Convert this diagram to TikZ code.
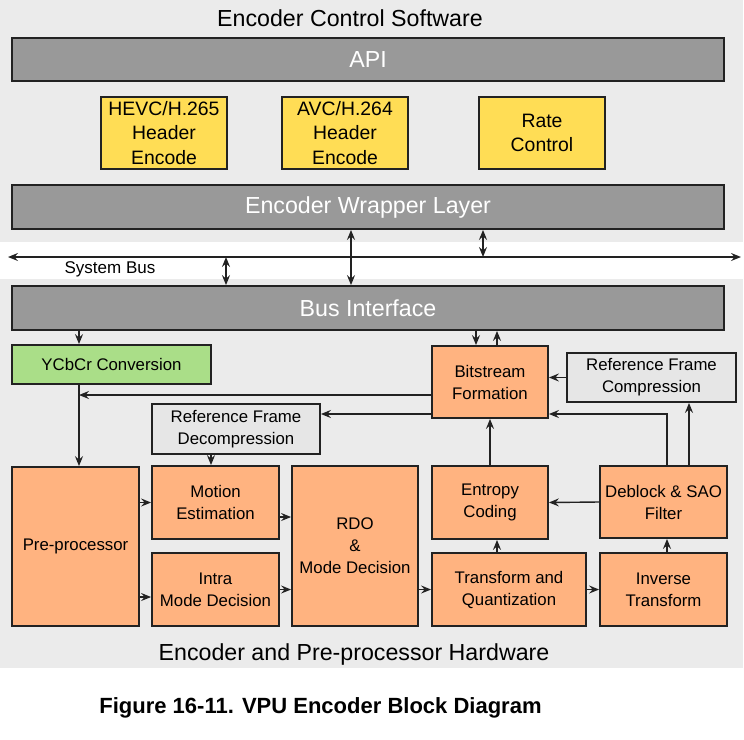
\documentclass[tikz,border=0pt]{standalone}
\usepackage{fontspec}
\setmainfont{Liberation Sans}
\usepackage{tikz}
\usetikzlibrary{arrows.meta,positioning}
\definecolor{panelgray}{RGB}{235,235,235}
\definecolor{bargray}{RGB}{153,153,153}
\definecolor{hdryellow}{RGB}{255,221,85}
\definecolor{yuvgreen}{RGB}{170,222,136}
\definecolor{hworange}{RGB}{255,179,128}
\definecolor{refgray}{RGB}{230,230,230}
\definecolor{edgeblack}{RGB}{34,34,34}

\begin{document}
\begin{tikzpicture}[x=1pt,y=-1pt,
  box/.style={draw=edgeblack,line width=1.8pt,align=center,inner sep=0pt},
  swbar/.style={box,fill=bargray,text=white,minimum width=712pt,minimum height=44pt,font=\fontsize{23.2}{28}\selectfont},
  hdrcell/.style={box,fill=hdryellow,minimum width=126pt,minimum height=72pt,font=\fontsize{19.4}{24.5}\selectfont},
  hwcell/.style={box,fill=hworange,font=\fontsize{16.8}{22}\selectfont},
  refcell/.style={box,fill=refgray,font=\fontsize{16.8}{22}\selectfont},
  lbl/.style={font=\fontsize{23.2}{28}\selectfont},
  link/.style={-{Stealth[length=10pt,width=8pt,inset=3.5pt]},line width=1.4pt,edgeblack},
  dlink/.style={{Stealth[length=10pt,width=8pt,inset=3.5pt]}-{Stealth[length=10pt,width=8pt,inset=3.5pt]},line width=1.4pt,edgeblack},
]
  \useasboundingbox (0,0) rectangle (744,739);
  % panels
  \fill[panelgray] (0,0) rectangle (743,242);
  \fill[panelgray] (0,279) rectangle (743,668);
  \node[lbl] (swtitle) at (350,18) {Encoder Control Software};
  \node[lbl] (hwtitle) at (354,654) {Encoder and Pre-processor Hardware};

  % software side
  \node[swbar,minimum height=43pt] (api) at (368,59.5) {API};
  \node[hdrcell] (hevc) at (164,133) {HEVC/H.265\\Header\\Encode};
  \node[hdrcell] (avc)  at (345,133) {AVC/H.264\\Header\\Encode};
  \node[hdrcell] (rate) at (542,133) {Rate\\Control};
  \node[swbar] (wrap) at (368,207) {Encoder Wrapper Layer};

  % system bus
  \coordinate (busL) at (8,257);
  \coordinate (busR) at (741,257);
  \draw[dlink] (busL) -- (busR);
  \node[font=\fontsize{17}{20}\selectfont] (sysbus) at (110,269) {System Bus};
  \node[swbar] (busif) at (368,308) {Bus Interface};
  \coordinate (tapA) at (226,257);
  \coordinate (tapB) at (483,257);
  \coordinate (tapC) at (351,257);
  \draw[dlink] (tapA) -- (tapA |- busif.north);
  \draw[dlink] (tapB |- wrap.south) -- (tapB);
  \draw[dlink] (tapC |- wrap.south) -- (tapC |- busif.north);

  % hardware blocks
  \node[box,fill=yuvgreen,minimum width=199pt,minimum height=39pt,font=\fontsize{16.8}{22}\selectfont] (ycbcr) at (111.5,364.5) {YCbCr Conversion};
  \node[refcell,minimum width=168pt,minimum height=50pt] (rfd) at (236,429) {Reference Frame\\Decompression};
  \node[hwcell,minimum width=116pt,minimum height=72pt] (bsf) at (490,382) {Bitstream\\Formation};
  \node[refcell,minimum width=169pt,minimum height=49pt] (rfc) at (651.5,377.5) {Reference Frame\\Compression};
  \node[hwcell,minimum width=127pt,minimum height=159pt] (pre) at (75.5,546.5) {Pre-processor};
  \node[hwcell,minimum width=127pt,minimum height=73pt] (me) at (215.5,502.5) {Motion\\Estimation};
  \node[hwcell,minimum width=127pt,minimum height=73pt] (intra) at (215.5,589.5) {Intra\\Mode Decision};
  \node[hwcell,minimum width=126pt,minimum height=160pt] (rdo) at (355,546) {RDO\\\&\\Mode Decision};
  \node[hwcell,minimum width=116pt,minimum height=73pt] (ent) at (490,502.5) {Entropy\\Coding};
  \node[hwcell,minimum width=127pt,minimum height=72pt] (dbk) at (663.5,502) {Deblock \& SAO\\Filter};
  \node[hwcell,minimum width=154pt,minimum height=73pt] (tq) at (509,589.5) {Transform and\\Quantization};
  \node[hwcell,minimum width=127pt,minimum height=73pt] (inv) at (663.5,589.5) {Inverse\\Transform};

  % columns and rows for the connectors
  \coordinate (colA) at (79,0);
  \coordinate (colB) at (211,0);
  \coordinate (colC) at (476,0);
  \coordinate (colD) at (497,0);
  \coordinate (colE) at (667,0);
  \coordinate (colF) at (689,0);
  \coordinate (rowA) at (0,395);
  \coordinate (rowB) at (0,414);
  \coordinate (rowC) at (0,597);
  \coordinate (rowD) at (0,517);

  \draw[link] (colA |- busif.south) -- (colA |- ycbcr.north);
  \draw[link] (colA |- ycbcr.south) -- (colA |- pre.north);
  \draw[link] (bsf.west |- rowA) -- (colA |- rowA);
  \draw[link] (bsf.west |- rowB) -- (rfd.east |- rowB);
  \draw[link] (colB |- rfd.south) -- (colB |- me.north);
  \draw[link] (colC |- busif.south) -- (colC |- bsf.north);
  \draw[link] (colD |- bsf.north) -- (colD |- busif.south);
  \draw[link] (rfc.west) -- (bsf.east |- rfc.west);
  \draw[link] (colE |- dbk.north) |- (bsf.east |- rowB);
  \draw[link] (colF |- dbk.north) -- (colF |- rfc.south);
  \draw[link] (ent.north) -- (bsf.south);
  \draw[link] (pre.east |- me.west) -- (me.west);
  \draw[link] (pre.east |- rowC) -- (intra.west |- rowC);
  \draw[link] (me.east |- rowD) -- (rdo.west |- rowD);
  \draw[link] (intra.east) -- (rdo.west |- intra.east);
  \draw[link] (rdo.east |- tq.west) -- (tq.west);
  \draw[link] (tq.east) -- (inv.west);
  \draw[link] (colD |- tq.north) -- (colD |- ent.south);
  \draw[link] (colE |- inv.north) -- (colE |- dbk.south);
  \draw[link] (dbk.west) -- (ent.east);

  % caption
  \node[font=\fontsize{22}{26}\selectfont\bfseries] (caption) at (320.5,708) {Figure 16-11. VPU Encoder Block Diagram};
\end{tikzpicture}
\end{document}
